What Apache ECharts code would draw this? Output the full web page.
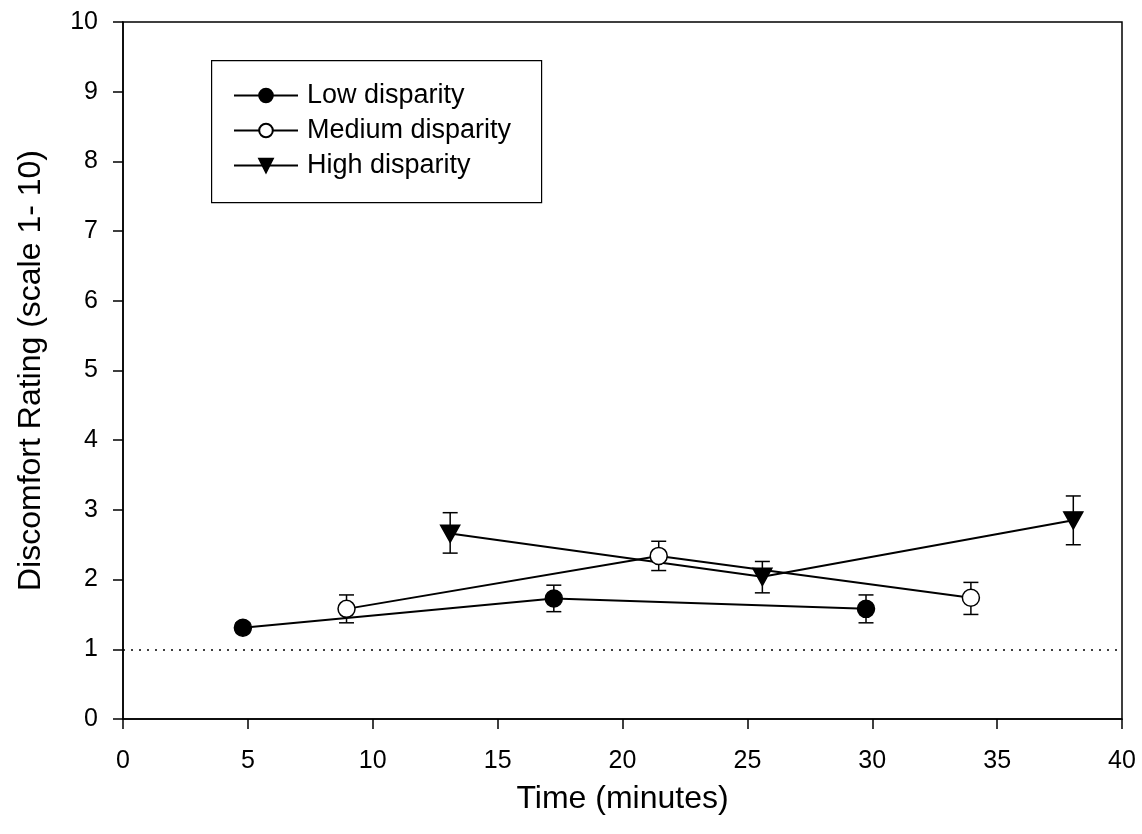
<!DOCTYPE html>
<html>
<head>
<meta charset="utf-8">
<script src="https://cdn.jsdelivr.net/npm/echarts@6/dist/echarts.min.js"></script>
<style>
  html, body { margin: 0; padding: 0; background: #fff; }
  #chart { width: 1142px; height: 834px; }
</style>
</head>
<body>
<div id="chart"></div>
<script>
// values: [time, rating]
var lowData = [[4.8, 1.31], [17.25, 1.73], [29.75, 1.58]];
var mediumData = [[8.95, 1.58], [21.45, 2.34], [33.95, 1.74]];
var highData = [[13.1, 2.66], [25.6, 2.04], [38.05, 2.85]];
// error bars: [time, low, high]
var lowErr = [[4.8, 1.24, 1.38], [17.25, 1.54, 1.92], [29.75, 1.38, 1.78]];
var mediumErr = [[8.95, 1.38, 1.78], [21.45, 2.13, 2.55], [33.95, 1.50, 1.96]];
var highErr = [[13.1, 2.38, 2.96], [25.6, 1.81, 2.26], [38.05, 2.50, 3.20]];
var names = ["Low disparity", "Medium disparity", "High disparity"];
var refLine = 1;

var font = "Liberation Sans, Arial, sans-serif";
var chart = echarts.init(document.getElementById("chart"));

function errSeries(data) {
  return {
    type: "custom",
    silent: true,
    z: 1,
    data: data,
    renderItem: function (params, api) {
      var x = api.value(0);
      var lo = api.coord([x, api.value(1)]);
      var hi = api.coord([x, api.value(2)]);
      var w = 7.5;
      var st = { stroke: "#000", lineWidth: 1.5 };
      return {
        type: "group",
        children: [
          { type: "line", shape: { x1: lo[0], y1: lo[1], x2: hi[0], y2: hi[1] }, style: st },
          { type: "line", shape: { x1: lo[0] - w, y1: lo[1], x2: lo[0] + w, y2: lo[1] }, style: st },
          { type: "line", shape: { x1: hi[0] - w, y1: hi[1], x2: hi[0] + w, y2: hi[1] }, style: st }
        ]
      };
    }
  };
}

function lineSeries(name, data, symbol, fill, rotate) {
  return {
    name: name,
    type: "line",
    data: data,
    z: 3,
    symbol: symbol,
    symbolSize: symbol === "triangle" ? [19, 17] : 17,
    symbolRotate: rotate || 0,
    showAllSymbol: true,
    lineStyle: { color: "#000", width: 2 },
    itemStyle: { color: fill, borderColor: "#000", borderWidth: 1.5 },
    animation: false
  };
}

var low = lineSeries(names[0], lowData, "circle", "#000");
low.markLine = {
  silent: true,
  symbol: "none",
  label: { show: false },
  lineStyle: { color: "#000", type: [2, 6], width: 1.5 },
  data: [{ yAxis: refLine }],
  animation: false
};

chart.setOption({
  animation: false,
  grid: {
    left: 123, right: 20, top: 22, bottom: 115,
    show: true, borderColor: "#000", borderWidth: 1.5, backgroundColor: "transparent"
  },
  graphic: [{
    type: "rect",
    left: 211, top: 60,
    shape: { width: 330, height: 142 },
    style: { fill: "#fff", stroke: "#000", lineWidth: 1.2 },
    z: 10
  }],
  legend: {
    orient: "vertical",
    left: 228, top: 77,
    z: 11,
    itemWidth: 64,
    itemHeight: 17,
    itemGap: 8,
    data: names,
    textStyle: { fontFamily: font, fontSize: 27, color: "#000", padding: [0, 0, 0, 4] }
  },
  xAxis: {
    type: "value",
    min: 0, max: 40, interval: 5,
    name: "Time (minutes)",
    nameLocation: "middle",
    nameGap: 64,
    nameTextStyle: { fontFamily: font, fontSize: 32, color: "#000" },
    axisLine: { lineStyle: { color: "#000", width: 1.5 } },
    axisTick: { length: 10, lineStyle: { color: "#000", width: 1.5 } },
    axisLabel: { margin: 30, fontFamily: font, fontSize: 25, color: "#000" },
    splitLine: { show: false }
  },
  yAxis: {
    type: "value",
    min: 0, max: 10, interval: 1,
    name: "Discomfort Rating (scale 1- 10)",
    nameLocation: "middle",
    nameGap: 76,
    nameTextStyle: { fontFamily: font, fontSize: 32, color: "#000" },
    axisLine: { lineStyle: { color: "#000", width: 1.5 } },
    axisTick: { length: 10, lineStyle: { color: "#000", width: 1.5 } },
    axisLabel: { margin: 25, fontFamily: font, fontSize: 25, color: "#000" },
    splitLine: { show: false }
  },
  series: [
    errSeries(lowErr),
    errSeries(mediumErr),
    errSeries(highErr),
    low,
    lineSeries(names[1], mediumData, "circle", "#fff"),
    lineSeries(names[2], highData, "triangle", "#000", 180)
  ]
});
</script>
</body>
</html>
